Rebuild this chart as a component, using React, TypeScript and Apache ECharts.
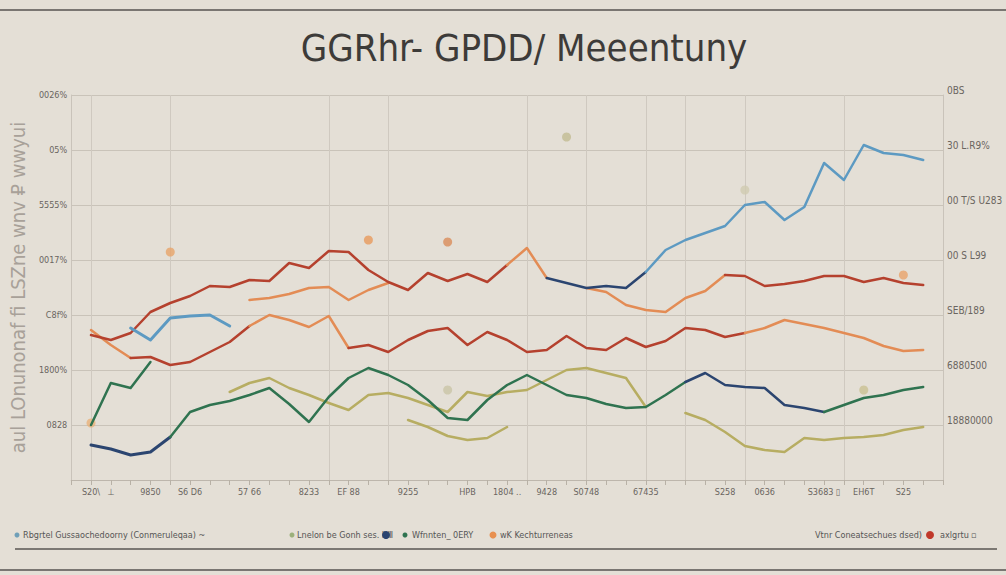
import React, { useEffect, useRef } from "react";
import * as echarts from "echarts";

const TITLE = "GGRhr- GPDD/ Meeentuny";
const Y_NAME = "aul LOnunonaf fi LSZne wnv ₽ wwyui";

// x categories (45 slots, first & last are padding)
const categories: string[] = Array.from({ length: 45 }, (_, i) => String(i));
const xTickPos = [1, 2, 4, 6, 9, 12, 14, 17, 20, 22, 24, 26, 29, 33, 35, 38, 40, 42];
const xTickText = ["S20\\", "⊥", "9850", "S6 D6", "57 66", "8233", "EF 88", "9255", "HPB", "1804 ..", "9428", "S0748", "67435", "S258", "0636", "S3683 ▯", "EH6T", "S25"];
const xSplitPos = [1, 5, 13, 16, 23, 26, 29, 31, 34, 39];

const leftTicks = ["", "0828", "1800%", "C8f%", "0017%", "5555%", "05%", "0026%"];
const rightTicks = ["", "18880000", "6880500", "SEB/189", "00 S L99", "00 T/S U283", "30 L.R9%", "0BS"];

// series values (index 0 = first drawn point)
const topLine = [145, 140, 147, 168, 177, 184, 194, 193, 200, 199, 217, 212, 229, 228, 210, 198, 190, 207, 199, 206, 198, 215, 232, 202, 197, 192, 194, 192, 208, 230, 240, 247, 254, 275, 278, 260, 273, 317, 300, 335, 327, 325, 320];
const midLine = [150, 135, 122, 123, 115, 118, 128, 138, 154, 165, 160, 153, 164, 132, 135, 128, 140, 149, 152, 135, 148, 140, 128, 130, 144, 132, 130, 142, 133, 139, 152, 150, 143, 147, 152, 160, 156, 152, 147, 142, 134, 129, 130];
const rightLine = [192, 188, 175, 170, 168, 182, 189, 205, 204, 194, 196, 199, 204, 204, 198, 202, 197, 195]; // from 25
const upperOrange = [180, 182, 186, 192, 193, 180, 190, 197]; // from 8
const blueLoop = [152, 140, 162, 164, 165, 154]; // from 2
const greenShort = [55, 97, 92, 118]; // from 0
const lowerLine = [35, 31, 25, 28, 43, 68, 75, 79, 85, 92, 76, 58, 83, 102, 112, 105, 95, 80, 62, 60, 80, 95, 105, 95, 85, 82, 76, 72, 73, 85, 98, 107, 95, 93, 92, 75, 72, 68, 75, 82, 85, 90, 93];
const oliveUpper = [88, 97, 102, 92, 85, 77, 70, 85, 87, 82, 75, 68, 88, 84, 88, 90, 100, 110, 112, 107, 102, 73]; // from 7
const oliveLowA = [60, 53, 44, 40, 42, 53]; // from 16
const oliveLowB = [67, 60, 48, 34, 30, 28, 42, 40, 42, 43, 45, 50, 53]; // from 30

// faint paint blobs scattered over the plot: [category slot, value]
const blobPoints = [[5, 228], [15, 240], [19, 238], [25, 343], [34, 290], [40, 90], [19, 90], [1, 57], [42, 205]];
const blobColors = ["#e7a469", "#e79a5c", "#d98c5a", "#c2bc92", "#cfcab0", "#c9c192", "#c9c4a6", "#e8b27a", "#e9a36a"];

const RED = "#b5412e";
const ORANGE = "#e38c55";
const NAVY = "#2b4570";
const BLUE = "#5d9ac2";
const GREEN = "#2f7350";
const OLIVE = "#b7ad62";

const FONT = "'Liberation Sans Narrow', 'DejaVu Sans Condensed', 'Roboto', sans-serif";

function place(start: number, vals: number[]) {
  const arr: (number | null)[] = new Array(45).fill(null);
  vals.forEach((v, j) => {
    arr[start + 1 + j] = v;
  });
  return arr;
}

function cut(data: (number | null)[], from: number, to: number) {
  return data.map((v, k) => (k >= from && k <= to ? v : null));
}

function line(name: string, data: (number | null)[], color: string, width = 2.5) {
  return {
    name,
    type: "line",
    data,
    showSymbol: false,
    smooth: false,
    connectNulls: false,
    lineStyle: { width, color, cap: "round", join: "round" },
    itemStyle: { color },
  };
}

export default function App() {
  const ref = useRef<HTMLDivElement>(null);
  useEffect(() => {
    if (!ref.current) return;
    const chart = echarts.init(ref.current, null, { renderer: "svg" });
    const top = place(0, topLine);
    const mid = place(0, midLine);
    const right = place(25, rightLine);
    const low = place(0, lowerLine);
    const series: any[] = [
      {
        name: "blobs",
        type: "scatter",
        symbolSize: 9,
        data: blobPoints.map((p, i) => ({ value: p, itemStyle: { color: blobColors[i], opacity: 0.8 } })),
        z: 1,
      },
      line("mid-a", cut(mid, 1, 3), ORANGE),
      line("mid-b", cut(mid, 3, 9), RED),
      line("mid-c", cut(mid, 9, 14), ORANGE),
      line("mid-d", cut(mid, 14, 34), RED),
      line("mid-e", cut(mid, 34, 43), ORANGE),
      line("right-a", cut(right, 26, 33), ORANGE),
      line("right-b", cut(right, 33, 43), RED),
      line("upperOrange", place(8, upperOrange), ORANGE),
      line("top-a", cut(top, 1, 22), RED),
      line("top-b", cut(top, 22, 24), ORANGE),
      line("top-c", cut(top, 24, 29), NAVY),
      line("top-d", cut(top, 29, 43), BLUE),
      line("blueLoop", place(2, blueLoop), BLUE, 3),
      line("oliveUpper", place(7, oliveUpper), OLIVE),
      line("oliveLowA", place(16, oliveLowA), OLIVE),
      line("oliveLowB", place(30, oliveLowB), OLIVE),
      line("greenShort", place(0, greenShort), GREEN),
      line("low-a", cut(low, 1, 5), NAVY, 3),
      line("low-b", cut(low, 5, 31), GREEN),
      line("low-c", cut(low, 31, 38), NAVY),
      line("low-d", cut(low, 38, 43), GREEN),
    ];
    chart.setOption({
      animation: false,
      backgroundColor: "#e4dfd6",
      grid: { left: 66, right: 63, top: 95, bottom: 95, containLabel: false },
      xAxis: {
        type: "category",
        data: categories,
        boundaryGap: false,
        axisLine: { show: true, lineStyle: { color: "#bdb6ac" } },
        axisTick: { show: true, interval: 0, length: 5, lineStyle: { color: "#b8b1a6" } },
        axisLabel: {
          interval: 0,
          margin: 7,
          fontSize: 9,
          color: "#6a6560",
          fontFamily: FONT,
          formatter: (_v: string, idx: number) => {
            const p = xTickPos.indexOf(idx);
            return p >= 0 ? xTickText[p] : "";
          },
        },
        splitLine: {
          show: true,
          interval: (idx: number) => xSplitPos.indexOf(idx) >= 0,
          lineStyle: { color: "#cfc9c0", width: 1 },
        },
      },
      yAxis: [
        {
          type: "value",
          min: 0,
          max: 385,
          interval: 55,
          name: Y_NAME,
          nameLocation: "middle",
          nameRotate: 90,
          nameGap: 40,
          nameTextStyle: { fontSize: 20, color: "#a8a199", fontFamily: FONT },
          axisLine: { show: true, lineStyle: { color: "#c9c3ba" } },
          axisTick: { show: false },
          axisLabel: {
            margin: 4,
            fontSize: 9,
            color: "#6a6560",
            fontFamily: FONT,
            formatter: (v: number) => leftTicks[Math.round(v / 55)] ?? "",
          },
          splitLine: { show: true, lineStyle: { color: "#c9c3b9", width: 1 } },
        },
        {
          type: "value",
          min: 0,
          max: 385,
          interval: 55,
          position: "right",
          axisLine: { show: true, lineStyle: { color: "#c9c3ba" } },
          axisTick: { show: false },
          axisLabel: {
            margin: 4,
            fontSize: 10,
            color: "#6a6560",
            fontFamily: FONT,
            verticalAlign: "bottom",
            formatter: (v: number) => rightTicks[Math.round(v / 55)] ?? "",
          },
          splitLine: { show: false },
        },
      ],
      series,
      graphic: [
        { type: "line", shape: { x1: 0, y1: 10, x2: 1006, y2: 10 }, style: { stroke: "#7a7672", lineWidth: 2 } },
        {
          type: "text",
          x: 524,
          y: 48,
          style: { text: TITLE, align: "center", verticalAlign: "middle", fontSize: 38, fontFamily: FONT, fill: "#3d3b39" },
        },
        { type: "circle", shape: { cx: 17, cy: 535, r: 2.5 }, style: { fill: "#6f9fb8" } },
        { type: "text", x: 23, y: 535, style: { text: "Rbgrtel Gussaochedoorny (Conmeruleqaa) ~", verticalAlign: "middle", fontSize: 9, fontFamily: FONT, fill: "#555" } },
        { type: "circle", shape: { cx: 292, cy: 535, r: 2.5 }, style: { fill: "#9bb07a" } },
        { type: "text", x: 297, y: 535, style: { text: "Lnelon be Gonh ses. ⅢⅢ", verticalAlign: "middle", fontSize: 9, fontFamily: FONT, fill: "#555" } },
        { type: "circle", shape: { cx: 386, cy: 535, r: 4 }, style: { fill: NAVY } },
        { type: "circle", shape: { cx: 405, cy: 535, r: 2.5 }, style: { fill: GREEN } },
        { type: "text", x: 412, y: 535, style: { text: "Wfnnten_ 0ERY", verticalAlign: "middle", fontSize: 9, fontFamily: FONT, fill: "#555" } },
        { type: "circle", shape: { cx: 493, cy: 535, r: 3.5 }, style: { fill: "#e89050" } },
        { type: "text", x: 500, y: 535, style: { text: "wK Kechturreneas", verticalAlign: "middle", fontSize: 9, fontFamily: FONT, fill: "#555" } },
        { type: "text", x: 922, y: 535, style: { text: "Vtnr Coneatsechues dsed)", align: "right", verticalAlign: "middle", fontSize: 9, fontFamily: FONT, fill: "#555" } },
        { type: "circle", shape: { cx: 930, cy: 535, r: 4 }, style: { fill: "#c0392b" } },
        { type: "text", x: 940, y: 535, style: { text: "axlgrtu ▫", verticalAlign: "middle", fontSize: 9, fontFamily: FONT, fill: "#555" } },
        { type: "line", shape: { x1: 15, y1: 549, x2: 997, y2: 549 }, style: { stroke: "#5a5652", lineWidth: 1.5 } },
        { type: "line", shape: { x1: 0, y1: 570, x2: 1006, y2: 570 }, style: { stroke: "#7a7672", lineWidth: 2 } },
      ],
    });
    return () => chart.dispose();
  }, []);
  return <div ref={ref} style={{ position: "fixed", left: 0, top: 0, width: 1006, height: 575 }} />;
}
